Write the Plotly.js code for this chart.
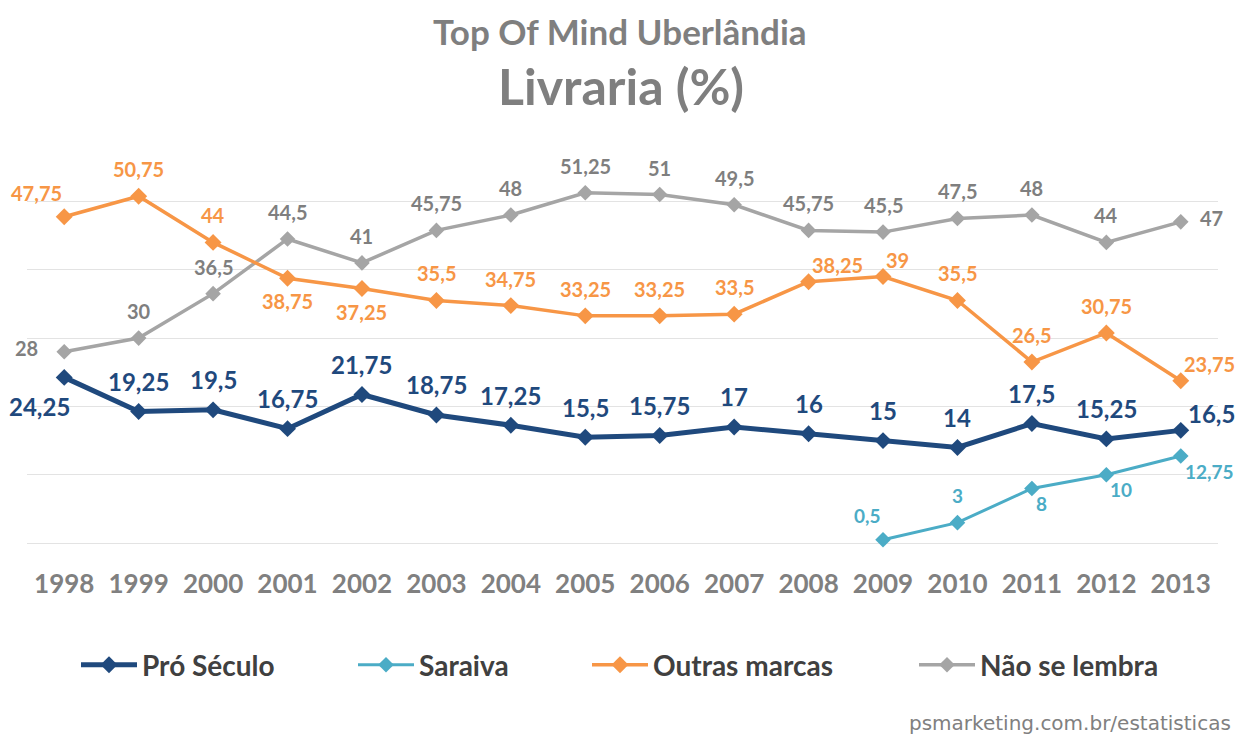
<!DOCTYPE html>
<html>
<head>
<meta charset="utf-8">
<script src="https://cdn.plot.ly/plotly-3.0.1.min.js"></script>
<style>html,body{margin:0;padding:0;background:#fff;}#chart{width:1237px;height:735px;}</style>
</head>
<body>
<div id="chart"></div>
<script>
// ---- data ----
const years = [1998,1999,2000,2001,2002,2003,2004,2005,2006,2007,2008,2009,2010,2011,2012,2013];
const proSeculo = [24.25,19.25,19.5,16.75,21.75,18.75,17.25,15.5,15.75,17,16,15,14,17.5,15.25,16.5];
const saraiva = [null,null,null,null,null,null,null,null,null,null,null,0.5,3,8,10,12.75];
const outrasMarcas = [47.75,50.75,44,38.75,37.25,35.5,34.75,33.25,33.25,33.5,38.25,39,35.5,26.5,30.75,23.75];
const naoSeLembra = [28,30,36.5,44.5,41,45.75,48,51.25,51,49.5,45.75,45.5,47.5,48,44,47];
const seriesNames = ['Pró Século','Saraiva','Outras marcas','Não se lembra'];

// label placement keywords
const A='above', B='below', AL='aboveLeft', AR='aboveRight', BL='belowLeft', BR='belowRight', L='left', R='right';
const proPos = [BL,A,A,A,A,A,A,A,A,A,A,A,A,A,A,AR];
const saraivaPos = [null,null,null,null,null,null,null,null,null,null,null,AL,A,BR,BR,BR];
const outrasPos = [AL,A,A,B,B,A,A,A,A,A,AR,AR,A,A,A,AR];
const naoPos = [L,A,A,A,A,A,A,A,A,A,A,A,A,A,A,R];

const FONT = 'Lato, "Open Sans", sans-serif';
const colors = {pro:'#1F497D', sar:'#4BACC6', out:'#F79646', nao:'#A5A5A5'};
const labelColors = {pro:'#1F497D', sar:'#4BACC6', out:'#F79646', nao:'#7F7F7F'};

const placeSmall = {
  above:{xa:'center',xs:0,ys:27}, below:{xa:'center',xs:0,ys:-23},
  aboveLeft:{xa:'right',xs:0,ys:24}, aboveRight:{xa:'left',xs:1,ys:17},
  belowRight:{xa:'left',xs:2,ys:-15}, belowLeft:{xa:'right',xs:8,ys:-28},
  left:{xa:'right',xs:-24,ys:4}, right:{xa:'left',xs:17,ys:4}
};
const placeBig = Object.assign({}, placeSmall, {
  above:{xa:'center',xs:0,ys:30}, aboveRight:{xa:'left',xs:5,ys:17}, belowLeft:{xa:'right',xs:8,ys:-29}
});

function fmt(v){ return String(v).replace('.', ','); }

const annotations = [];
function addLabels(vals, pos, color, size, places){
  vals.forEach((v,i)=>{
    if(v===null || !pos[i]) return;
    const p = places[pos[i]];
    annotations.push({
      x: years[i], y: v, xref:'x', yref:'y', text: fmt(v), showarrow:false,
      xanchor:p.xa, yanchor:'middle', xshift:p.xs, yshift:p.ys,
      font:{family:FONT, size:size, color:color, weight:'bold'}
    });
  });
}
addLabels(naoSeLembra, naoPos, labelColors.nao, 20, placeSmall);
addLabels(outrasMarcas, outrasPos, labelColors.out, 20, placeSmall);
addLabels(saraiva, saraivaPos, labelColors.sar, 19, placeSmall);
addLabels(proSeculo, proPos, labelColors.pro, 24, placeBig);

// titles and source
annotations.push({xref:'paper', yref:'paper', x:0.498, y:1.245, text:'Top Of Mind Uberlândia', showarrow:false,
  xanchor:'center', yanchor:'middle', font:{family:FONT, size:35, color:'#7F7F7F', weight:'bold'}});
annotations.push({xref:'paper', yref:'paper', x:0.499, y:1.112, text:'Livraria (%)', showarrow:false,
  xanchor:'center', yanchor:'middle', font:{family:FONT, size:50, color:'#7F7F7F', weight:'bold'}});
annotations.push({xref:'paper', yref:'paper', x:1.0126, y:-0.415, text:'psmarketing.com.br/estatisticas', showarrow:false,
  xanchor:'right', yanchor:'middle', font:{family:'"DejaVu Sans", sans-serif', size:20, color:'#808080'}});

function trace(name, vals, color, lw, ms, legendId){
  return {x: years, y: vals, name: name, type:'scatter', mode:'lines+markers',
    line:{color:color, width:lw}, marker:{symbol:'diamond', size:ms, color:color},
    connectgaps:false, legend: legendId, hoverinfo:'skip', cliponaxis:false};
}
// draw order: gray, orange, saraiva, pro on top
const data = [
  trace(seriesNames[3], naoSeLembra, colors.nao, 3.5, 12, 'legend4'),
  trace(seriesNames[2], outrasMarcas, colors.out, 3.5, 13, 'legend3'),
  trace(seriesNames[1], saraiva, colors.sar, 3, 12, 'legend2'),
  trace(seriesNames[0], proSeculo, colors.pro, 5, 13, 'legend')
];

const legFont = {family:FONT, size:28, color:'#404040', weight:'bold'};
function leg(xpx){
  return {orientation:'h', x:(xpx-27)/1191, y:-0.276, xanchor:'left', yanchor:'middle',
    font:legFont, bgcolor:'rgba(0,0,0,0)', itemwidth:56, tracegroupgap:0};
}

const layout = {
  width:1237, height:735,
  margin:{l:27, r:19, t:133, b:185},
  paper_bgcolor:'#ffffff', plot_bgcolor:'#ffffff',
  showlegend:true,
  legend: leg(76), legend2: leg(353), legend3: leg(587), legend4: leg(914),
  xaxis:{range:[1997.5,2013.5], tickvals:years, ticktext:years.map(String), showgrid:false, zeroline:false,
    showline:false, ticks:'', ticklabelstandoff:16,
    tickfont:{family:FONT, size:26, color:'#808080', weight:'bold'}, fixedrange:true},
  yaxis:{range:[-1,60], tickvals:[0,10,20,30,40,50], showticklabels:false, gridcolor:'#E3E3E3', gridwidth:1,
    zeroline:false, showline:false, ticks:'', fixedrange:true},
  annotations: annotations
};

Plotly.newPlot('chart', data, layout, {displayModeBar:false, staticPlot:true});
</script>
</body>
</html>
